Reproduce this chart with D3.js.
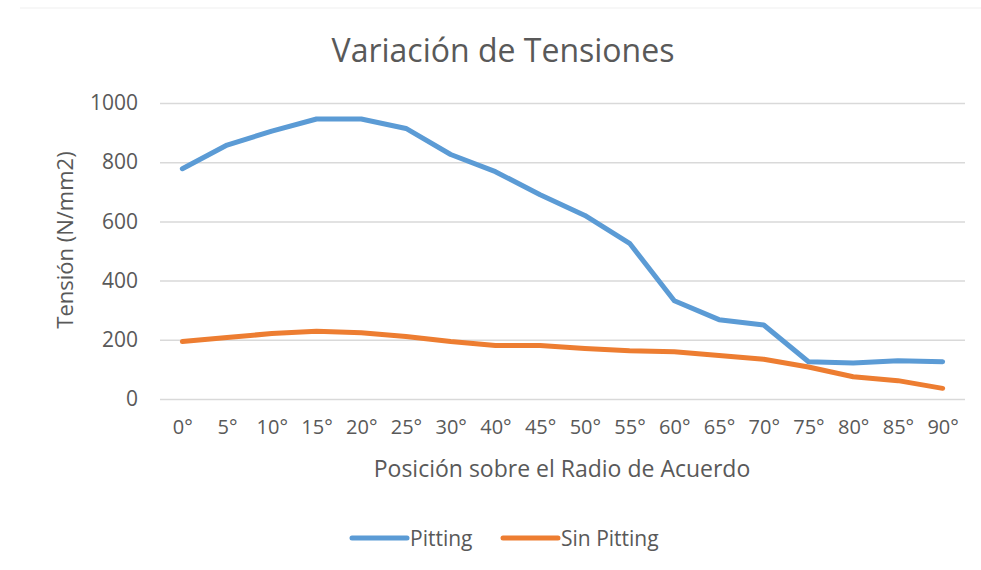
<!DOCTYPE html>
<html>
<head>
<meta charset="utf-8">
<script src="https://cdn.jsdelivr.net/npm/d3@7"></script>
<style>
  html, body { margin: 0; padding: 0; background: #ffffff; }
  svg { display: block; }
  text { font-family: "Open Sans", "Noto Sans", sans-serif; fill: #595959; }
</style>
</head>
<body>
<svg id="chart" width="981" height="570"></svg>
<script>
const categories = ["0°","5°","10°","15°","20°","25°","30°","40°","45°","50°","55°","60°","65°","70°","75°","80°","85°","90°"];
const pitting    = [778, 858, 905, 946, 946, 914, 826, 768, 690, 620, 526, 332, 268, 250, 126, 122, 129, 126];
const sinPitting = [194, 208, 221, 229, 224, 211, 194, 181, 181, 171, 163, 160, 147, 134, 108, 75, 62, 36];
const yTicks = [0, 200, 400, 600, 800, 1000];
const seriesNames = ["Pitting", "Sin Pitting"];
const seriesColors = ["#5B9BD5", "#ED7D31"];

const svg = d3.select("#chart");
const W = 981, H = 570;
const plot = { left: 160, right: 965, top: 103, bottom: 399 };

// faint chart border line at top
svg.append("line").attr("x1", 20).attr("x2", W).attr("y1", 8).attr("y2", 8)
  .attr("stroke", "#efefef").attr("stroke-width", 1);

const x = d3.scalePoint().domain(categories).range([plot.left, plot.right]).padding(0.5);
const y = d3.scaleLinear().domain([0, 1000]).range([plot.bottom, plot.top]);

// gridlines
const yAxis = d3.axisLeft(y).tickValues(yTicks).tickFormat(d3.format("d"))
  .tickSize(-(plot.right - plot.left)).tickPadding(22);
const gy = svg.append("g").attr("transform", `translate(${plot.left},0)`).call(yAxis);
gy.select(".domain").remove();
gy.selectAll(".tick line").attr("stroke", "#d9d9d9").attr("stroke-width", 1.5);
gy.selectAll(".tick text").style("font-size", "21px").attr("fill", "#595959");

// x axis labels
const xAxis = d3.axisBottom(x).tickSize(0).tickPadding(21);
const gx = svg.append("g").attr("transform", `translate(0,${plot.bottom})`).call(xAxis);
gx.select(".domain").remove();
gx.selectAll(".tick text").style("font-size", "20px").attr("fill", "#595959");

// lines
const data = [pitting, sinPitting];
const line = d3.line().x((d, i) => x(categories[i])).y(d => y(d));
data.forEach((vals, k) => {
  svg.append("path").datum(vals)
    .attr("fill", "none")
    .attr("stroke", seriesColors[k])
    .attr("stroke-width", 5)
    .attr("stroke-linejoin", "round")
    .attr("stroke-linecap", "round")
    .attr("d", line);
});

// title
svg.append("text").attr("x", 503).attr("y", 62).attr("text-anchor", "middle")
  .style("font-size", "32px").text("Variación de Tensiones");

// axis titles
svg.append("text").attr("x", 562).attr("y", 477).attr("text-anchor", "middle")
  .style("font-size", "23px").text("Posición sobre el Radio de Acuerdo");
svg.append("text").attr("transform", "translate(73,240) rotate(-90)").attr("text-anchor", "middle")
  .style("font-size", "22px").text("Tensión (N/mm2)");

// legend
const legend = svg.append("g");
const legendItems = [
  { name: seriesNames[0], color: seriesColors[0], x0: 352 },
  { name: seriesNames[1], color: seriesColors[1], x0: 503 }
];
legendItems.forEach(it => {
  legend.append("line").attr("x1", it.x0).attr("x2", it.x0 + 55)
    .attr("y1", 538).attr("y2", 538)
    .attr("stroke", it.color).attr("stroke-width", 5).attr("stroke-linecap", "round");
  legend.append("text").attr("x", it.x0 + 58).attr("y", 546)
    .style("font-size", "21px").text(it.name);
});
</script>
</body>
</html>
